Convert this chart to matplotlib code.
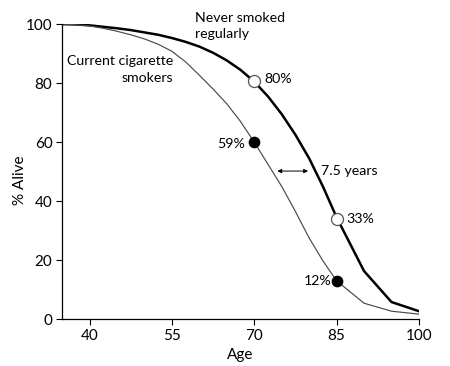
import matplotlib
matplotlib.use("Agg")
import matplotlib.pyplot as plt

plt.rcParams['font.family'] = ['Lato', 'DejaVu Sans']

ages = [35, 37.5, 40, 42.5, 45, 47.5, 50, 52.5, 55, 57.5, 60, 62.5, 65, 67.5,
        70, 72.5, 75, 77.5, 80, 82.5, 85, 90, 95, 100]
never_smoked = [100, 99.9, 99.6, 99.1, 98.6, 98, 97.2, 96.4, 95.3, 94, 92.4, 90.3,
                87.7, 84.5, 80.5, 75.5, 69.5, 62.5, 54.5, 45, 34.5, 16.3, 5.8, 2.7]
smokers = [100, 99.8, 99.4, 98.6, 97.6, 96.4, 95, 93.2, 90.8, 87.2, 82.7, 78,
           73, 67, 60, 52.5, 45, 36.5, 27.5, 19.8, 13, 5.4, 2.7, 1.7]

marker_ages = [70, 85]
never_marks = [80.8, 34]
smoker_marks = [60, 13]
never_labels = ["80%", "33%"]
smoker_labels = ["59%", "12%"]

xticks = [40, 55, 70, 85, 100]
yticks = [0, 20, 40, 60, 80, 100]

fig = plt.figure(figsize=(4.5, 3.66), dpi=100)
ax = fig.add_axes([0.138, 0.128, 0.793, 0.806])

ax.plot(ages, never_smoked, color='black', lw=1.8, zorder=2)
ax.plot(ages, smokers, color='#4a4a4a', lw=0.85, zorder=2)

ax.scatter(marker_ages, never_marks, s=75, facecolor='white', edgecolor='#555555', lw=0.9, zorder=3)
ax.scatter(marker_ages, smoker_marks, s=55, facecolor='black', edgecolor='black', zorder=3)

fs = 10.2
ax.text(71.8, 81.5, never_labels[0], fontsize=fs, va='center', ha='left')
ax.text(86.7, never_marks[1], never_labels[1], fontsize=fs, va='center', ha='left')
ax.text(68.4, 59.5, smoker_labels[0], fontsize=fs, va='center', ha='right')
ax.text(84.0, 12.8, smoker_labels[1], fontsize=fs, va='center', ha='right')

ax.annotate('', xy=(79.8, 50.2), xytext=(74.2, 50.2),
            arrowprops=dict(arrowstyle='<|-|>', color='black', lw=0.7,
                            mutation_scale=6, shrinkA=0, shrinkB=0))
ax.text(82.2, 50.2, "7.5 years", fontsize=fs, va='center', ha='left')

ax.text(59.2, 99.4, "Never smoked\nregularly", fontsize=fs, va='center', ha='left',
        linespacing=1.45, clip_on=False)
ax.text(55.3, 84.7, "Current cigarette\nsmokers", fontsize=fs, va='center', ha='right',
        linespacing=1.45, multialignment='right')

ax.set_xlim(35, 100)
ax.set_ylim(0, 100)
ax.set_xticks(xticks)
ax.set_yticks(yticks)
ax.tick_params(labelsize=11, length=4, width=0.8, direction='out', pad=3)
ax.spines['top'].set_visible(False)
ax.spines['right'].set_visible(False)
for s in ['left', 'bottom']:
    ax.spines[s].set_linewidth(0.9)
ax.set_xlabel("Age", fontsize=11, labelpad=4)
ax.set_ylabel("% Alive", fontsize=11)
ax.yaxis.set_label_coords(-0.098, 0.47)

fig.savefig("out.png", dpi=100)
